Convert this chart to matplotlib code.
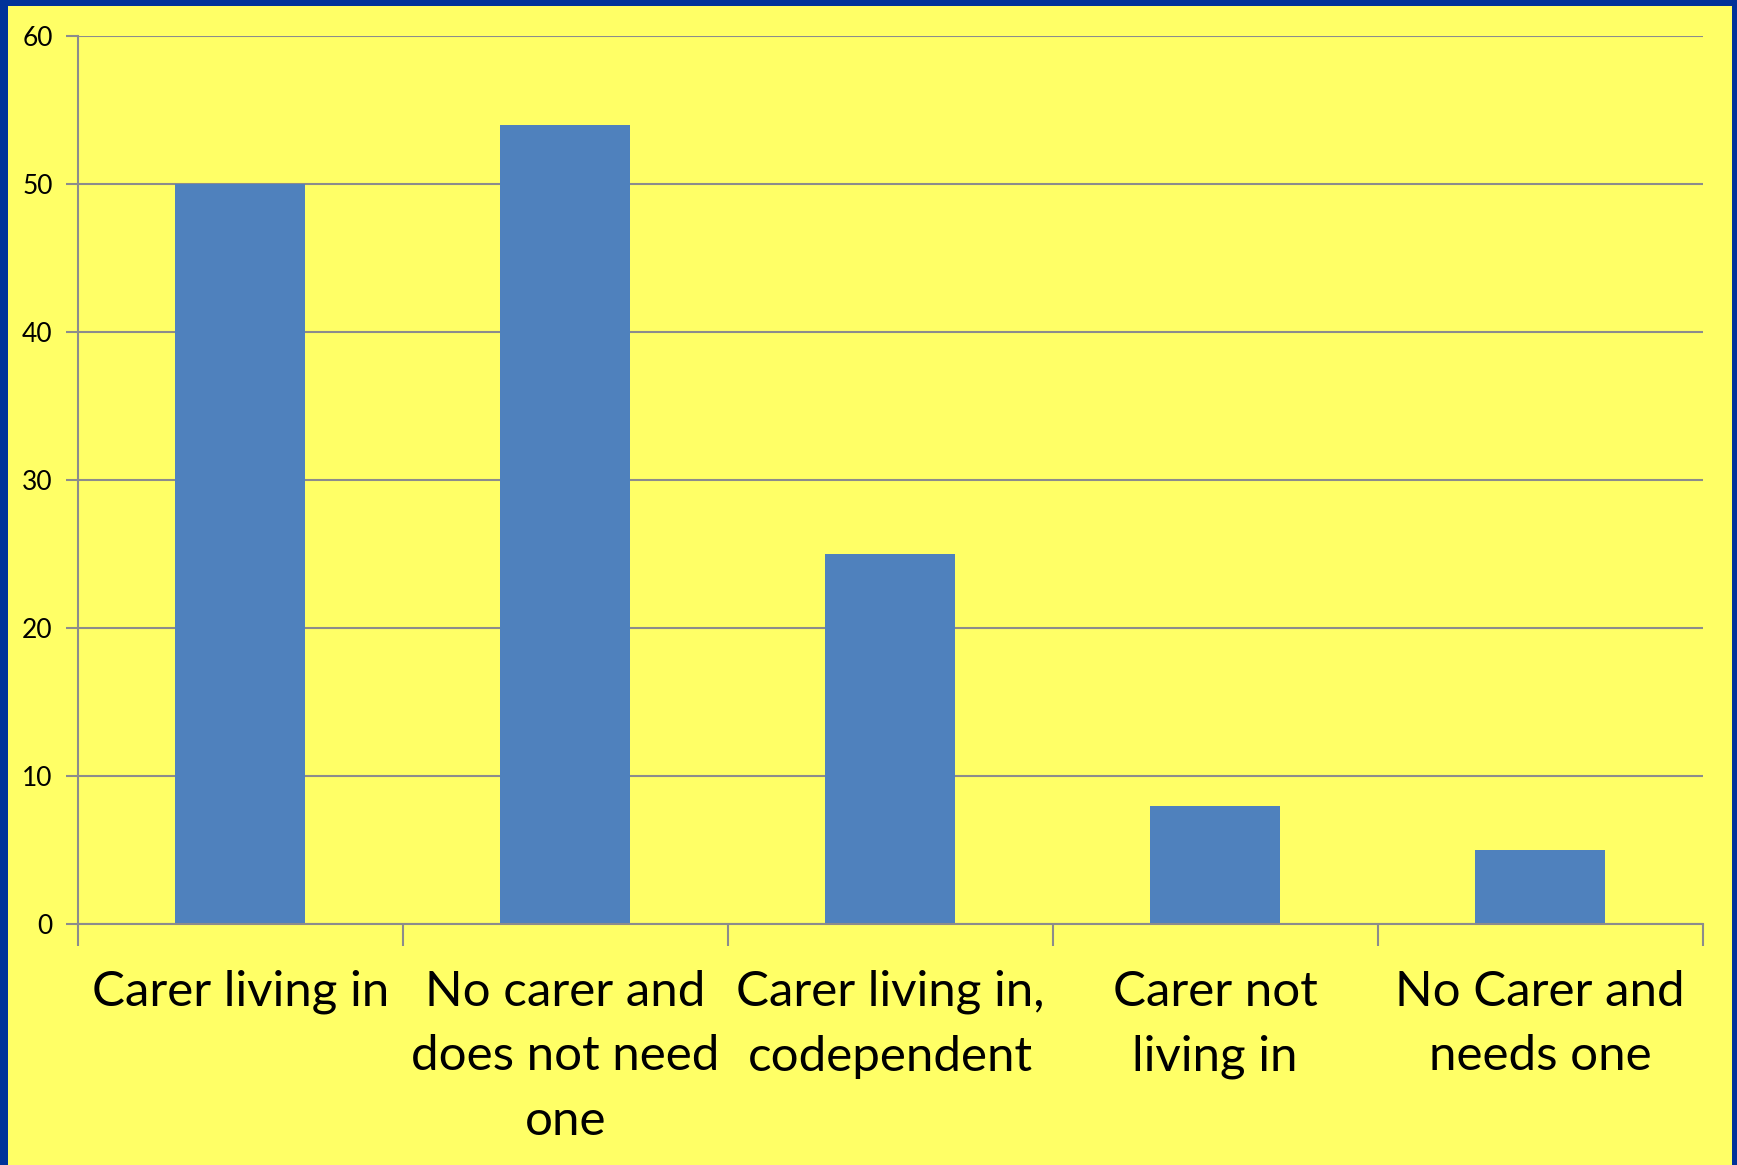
import matplotlib
matplotlib.use("Agg")
import matplotlib.pyplot as plt
from matplotlib.patches import Rectangle
import numpy as np

categories = ["Carer living in", "No carer and\ndoes not need\none",
              "Carer living in,\ncodependent", "Carer not\nliving in",
              "No Carer and\nneeds one"]
values = [50, 54, 25, 8, 5]
yticks = [0, 10, 20, 30, 40, 50, 60]

border = "#003399"
panel = "#FFFF66"
bar_col = "#4F81BD"
grey = "#8C8C8C"

plt.rcParams["font.family"] = ["Lato", "DejaVu Sans"]

fig = plt.figure(figsize=(17.37, 11.65), dpi=100, facecolor=border)
# yellow slide panel inside the blue frame
fig.patches.append(Rectangle((8 / 1737, 0), (1732 - 8) / 1737, 1 - 6 / 1165,
                             transform=fig.transFigure, facecolor=panel,
                             edgecolor="none", zorder=-10))

ax = fig.add_axes([77.7 / 1737, 1 - 924 / 1165, (1702.7 - 77.7) / 1737, (924 - 35.7) / 1165])
ax.set_facecolor(panel)

x = np.arange(len(categories))
ax.bar(x, values, width=0.4, color=bar_col, zorder=3)

ax.set_xlim(-0.5, len(categories) - 0.5)
ax.set_ylim(0, 60)
ax.set_yticks(yticks)
ax.tick_params(axis="y", length=9, width=1.5, color=grey, labelsize=19, pad=9)
ax.yaxis.grid(True, color=grey, linewidth=1.5, zorder=1)

ax.set_xticks(x)
ax.set_xticklabels(categories, fontsize=35.5, linespacing=1.57)
ax.tick_params(axis="x", which="major", length=0, pad=33)
ax.set_xticks(np.arange(-0.5, len(categories), 1), minor=True)
ax.tick_params(axis="x", which="minor", length=16, width=1.5, color=grey, direction="out")

for side in ["top", "right"]:
    ax.spines[side].set_visible(False)
for side in ["left", "bottom"]:
    ax.spines[side].set_color(grey)
    ax.spines[side].set_linewidth(1.5)
    ax.spines[side].set_zorder(4)
ax.spines["left"].set_bounds(0, 60)

fig.savefig("out.png", dpi=100, facecolor=border)
